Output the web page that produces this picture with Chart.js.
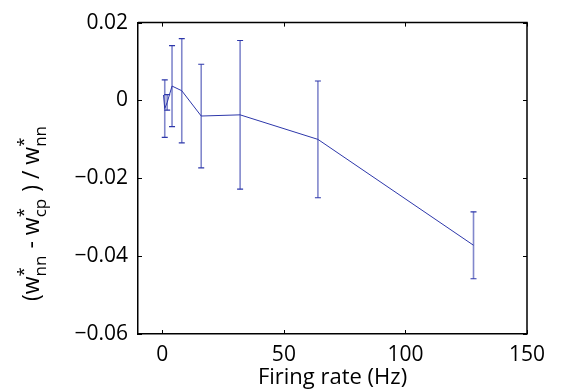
<!DOCTYPE html>
<html>
<head>
<meta charset="utf-8">
<script src="https://cdn.jsdelivr.net/npm/chart.js@4/dist/chart.umd.min.js"></script>
<style>
  html, body { margin: 0; padding: 0; background: #fff; }
  #wrap { width: 562px; height: 392px; }
</style>
</head>
<body>
<div id="wrap"><canvas id="ratioChart" width="562" height="392"></canvas></div>
<script>
// firing rates (Hz) and relative difference of the weights
var rates = [0.5, 1, 2, 4, 8, 16, 32, 64, 128];
var diffs = [0.0014, -0.0021, -0.0005, 0.0037, 0.0025, -0.0040, -0.0037, -0.0100, -0.0372];
var errs = [0, 0.0074, 0.0020, 0.0104, 0.0134, 0.0133, 0.0191, 0.0150, 0.0086];
var xTicks = [0, 50, 100, 150];
var yTicks = [-0.06, -0.04, -0.02, 0, 0.02];

var FONT = '"Open Sans", "DejaVu Sans", sans-serif';
var BLUE = 'rgb(45, 55, 170)';

function fmtY(v) {
  if (Math.abs(v) < 1e-9) return '0';
  return (v < 0 ? '\u2212' : '') + Math.abs(v).toFixed(2);
}

// error bars, inward ticks, box and the y label with sub/superscripts
var extras = {
  id: 'extras',
  afterDatasetsDraw: function (chart) {
    var ctx = chart.ctx, xs = chart.scales.x, ys = chart.scales.y;
    ctx.save();
    for (var i = 0; i < rates.length; i++) {
      if (!errs[i]) continue;
      var px = xs.getPixelForValue(rates[i]);
      var top = ys.getPixelForValue(diffs[i] + errs[i]);
      var bot = ys.getPixelForValue(diffs[i] - errs[i]);
      ctx.strokeStyle = 'rgba(45, 55, 170, 0.6)';
      ctx.lineWidth = 1.6;
      ctx.beginPath();
      ctx.moveTo(px, top); ctx.lineTo(px, bot);
      ctx.stroke();
      ctx.strokeStyle = BLUE;
      ctx.lineWidth = 1.2;
      ctx.beginPath();
      ctx.moveTo(px - 3, top); ctx.lineTo(px + 3, top);
      ctx.moveTo(px - 3, bot); ctx.lineTo(px + 3, bot);
      ctx.stroke();
    }
    ctx.restore();
  },
  afterDraw: function (chart) {
    var ctx = chart.ctx, a = chart.chartArea;
    var xs = chart.scales.x, ys = chart.scales.y;
    ctx.save();
    ctx.strokeStyle = '#000';
    ctx.lineWidth = 1;
    ctx.beginPath();
    xTicks.forEach(function (v) {
      var px = Math.round(xs.getPixelForValue(v)) + 0.5;
      ctx.moveTo(px, a.bottom); ctx.lineTo(px, a.bottom - 4);
      ctx.moveTo(px, a.top); ctx.lineTo(px, a.top + 4);
    });
    yTicks.forEach(function (v) {
      var py = Math.round(ys.getPixelForValue(v)) + 0.5;
      ctx.moveTo(a.left, py); ctx.lineTo(a.left + 4, py);
      ctx.moveTo(a.right, py); ctx.lineTo(a.right - 4, py);
    });
    ctx.stroke();
    ctx.lineWidth = 1.5;
    ctx.beginPath();
    ctx.moveTo(a.left, a.top); ctx.lineTo(a.right, a.top); ctx.lineTo(a.right, a.bottom);
    ctx.stroke();

    // y axis title: (w*nn - w*cp ) / w*nn
    var parts = [
      { t: '(w' }, { sup: '*', sub: 'nn' },
      { t: ' - w' }, { sup: '*', sub: 'cp' },
      { t: ' ) / w' }, { sup: '*', sub: 'nn' }
    ];
    var big = '23px ' + FONT, small = '17px ' + FONT;
    var total = 0;
    parts.forEach(function (p) {
      if (p.t) { ctx.font = big; p.w = ctx.measureText(p.t).width; }
      else { ctx.font = small; p.w = Math.max(ctx.measureText(p.sup).width, ctx.measureText(p.sub).width) + 1; }
      total += p.w;
    });
    ctx.translate(39, 213);
    ctx.rotate(-Math.PI / 2);
    ctx.fillStyle = '#000';
    ctx.textBaseline = 'alphabetic';
    var x = -total / 2;
    parts.forEach(function (p) {
      if (p.t) {
        ctx.font = big;
        ctx.fillText(p.t, x, 0);
      } else {
        ctx.font = small;
        ctx.fillText(p.sup, x, -10);
        ctx.fillText(p.sub, x, 7);
      }
      x += p.w;
    });
    ctx.restore();
  }
};

var points = rates.map(function (r, i) { return { x: r, y: diffs[i] }; });

new Chart(document.getElementById('ratioChart'), {
  type: 'scatter',
  data: {
    datasets: [{
      data: points,
      showLine: true,
      borderColor: BLUE,
      borderWidth: 1,
      pointRadius: 0,
      tension: 0
    }]
  },
  options: {
    responsive: false,
    animation: false,
    layout: { padding: { left: 60, right: 35, top: 14, bottom: 0 } },
    plugins: { legend: { display: false }, tooltip: { enabled: false } },
    scales: {
      x: {
        type: 'linear',
        min: -10,
        max: 150,
        afterFit: function (s) { s.height = 58; },
        afterBuildTicks: function (s) { s.ticks = xTicks.map(function (v) { return { value: v }; }); },
        grid: { display: false, drawTicks: false },
        border: { display: true, color: '#000', width: 1.5 },
        ticks: { padding: 8, color: '#000', font: { family: FONT, size: 21 }, maxRotation: 0 },
        title: { display: true, text: 'Firing rate (Hz)', color: '#000', font: { family: FONT, size: 22 }, padding: { top: 0, bottom: 1 } }
      },
      y: {
        type: 'linear',
        min: -0.06,
        max: 0.02,
        afterFit: function (s) { s.width = 78; },
        afterBuildTicks: function (s) { s.ticks = yTicks.map(function (v) { return { value: v }; }); },
        grid: { display: false, drawTicks: false },
        border: { display: true, color: '#000', width: 1.5 },
        ticks: { padding: 10, color: '#000', font: { family: FONT, size: 21 }, callback: fmtY }
      }
    }
  },
  plugins: [extras]
});
</script>
</body>
</html>
